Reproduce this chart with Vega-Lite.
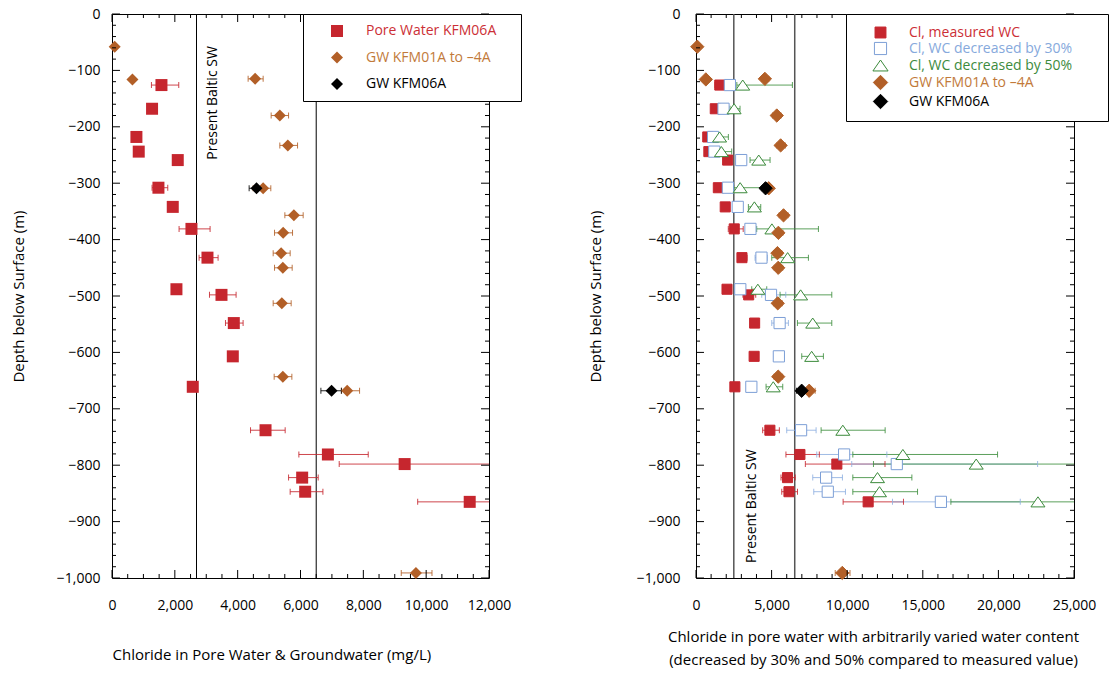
{
  "$schema": "https://vega.github.io/schema/vega-lite/v6.json",
  "background": "white",
  "autosize": {"type": "pad"},
  "padding": {"left": 10, "top": 6, "right": 3, "bottom": 5},
  "config": {
    "font": "Open Sans",
    "view": {"stroke": "black", "strokeWidth": 1},
    "axis": {"domain": false, "ticks": false, "grid": false, "labelColor": "black", "labelFont": "Open Sans", "labelFontSize": 14, "titleFont": "Open Sans", "titleFontSize": 15, "titleFontWeight": "normal", "titleColor": "black", "labelFlush": false, "labelOverlap": false, "labelBound": false},
    "legend": {"labelFont": "Open Sans", "labelFontSize": 14, "labelLimit": 600}
  },
  "datasets": {
    "left": [
      {"series": "Pore Water KFM06A", "depth": -126, "cl": 1574, "lo": 1255, "hi": 2125},
      {"series": "Pore Water KFM06A", "depth": -168, "cl": 1275},
      {"series": "Pore Water KFM06A", "depth": -218, "cl": 777},
      {"series": "Pore Water KFM06A", "depth": -244, "cl": 851},
      {"series": "Pore Water KFM06A", "depth": -259, "cl": 2093},
      {"series": "Pore Water KFM06A", "depth": -308, "cl": 1478, "lo": 1275, "hi": 1775},
      {"series": "Pore Water KFM06A", "depth": -342, "cl": 1934},
      {"series": "Pore Water KFM06A", "depth": -381, "cl": 2529, "lo": 2135, "hi": 3122},
      {"series": "Pore Water KFM06A", "depth": -432, "cl": 3039, "lo": 2772, "hi": 3377},
      {"series": "Pore Water KFM06A", "depth": -488, "cl": 2051},
      {"series": "Pore Water KFM06A", "depth": -498, "cl": 3485, "lo": 3103, "hi": 3950},
      {"series": "Pore Water KFM06A", "depth": -548, "cl": 3877, "lo": 3612, "hi": 4173},
      {"series": "Pore Water KFM06A", "depth": -607, "cl": 3845},
      {"series": "Pore Water KFM06A", "depth": -661, "cl": 2571},
      {"series": "Pore Water KFM06A", "depth": -738, "cl": 4887, "lo": 4409, "hi": 5512},
      {"series": "Pore Water KFM06A", "depth": -781, "cl": 6872, "lo": 5948, "hi": 8156},
      {"series": "Pore Water KFM06A", "depth": -798, "cl": 9315, "lo": 7232, "hi": 12500},
      {"series": "Pore Water KFM06A", "depth": -822, "cl": 6053, "lo": 5620, "hi": 6563},
      {"series": "Pore Water KFM06A", "depth": -847, "cl": 6149, "lo": 5671, "hi": 6713},
      {"series": "Pore Water KFM06A", "depth": -865, "cl": 11386, "lo": 9730, "hi": 13722},
      {"series": "GW KFM01A to –4A", "depth": -58, "cl": 86},
      {"series": "GW KFM01A to –4A", "depth": -116, "cl": 650},
      {"series": "GW KFM01A to –4A", "depth": -115, "cl": 4556, "lo": 4333, "hi": 4811},
      {"series": "GW KFM01A to –4A", "depth": -180, "cl": 5342, "lo": 5066, "hi": 5620},
      {"series": "GW KFM01A to –4A", "depth": -233, "cl": 5597, "lo": 5342, "hi": 5906},
      {"series": "GW KFM01A to –4A", "depth": -309, "cl": 4811, "lo": 4491, "hi": 5055},
      {"series": "GW KFM01A to –4A", "depth": -357, "cl": 5789, "lo": 5502, "hi": 6085},
      {"series": "GW KFM01A to –4A", "depth": -388, "cl": 5448, "lo": 5173, "hi": 5746},
      {"series": "GW KFM01A to –4A", "depth": -424, "cl": 5384, "lo": 5130, "hi": 5671},
      {"series": "GW KFM01A to –4A", "depth": -450, "cl": 5438, "lo": 5173, "hi": 5735},
      {"series": "GW KFM01A to –4A", "depth": -513, "cl": 5406, "lo": 5130, "hi": 5703},
      {"series": "GW KFM01A to –4A", "depth": -643, "cl": 5438, "lo": 5162, "hi": 5725},
      {"series": "GW KFM01A to –4A", "depth": -668, "cl": 7487, "lo": 7307, "hi": 7880},
      {"series": "GW KFM01A to –4A", "depth": -991, "cl": 9675, "lo": 9207, "hi": 10185},
      {"series": "GW KFM06A", "depth": -309, "cl": 4600, "lo": 4365, "hi": 4811},
      {"series": "GW KFM06A", "depth": -668, "cl": 6989, "lo": 6649, "hi": 7300}
    ],
    "right": [
      {"series": "Cl, measured WC", "depth": -126, "cl": 1574, "lo": 1255, "hi": 2125},
      {"series": "Cl, measured WC", "depth": -168, "cl": 1275},
      {"series": "Cl, measured WC", "depth": -218, "cl": 777},
      {"series": "Cl, measured WC", "depth": -244, "cl": 851},
      {"series": "Cl, measured WC", "depth": -259, "cl": 2093},
      {"series": "Cl, measured WC", "depth": -308, "cl": 1478, "lo": 1275, "hi": 1775},
      {"series": "Cl, measured WC", "depth": -342, "cl": 1934},
      {"series": "Cl, measured WC", "depth": -381, "cl": 2529, "lo": 2135, "hi": 3122},
      {"series": "Cl, measured WC", "depth": -432, "cl": 3039, "lo": 2772, "hi": 3377},
      {"series": "Cl, measured WC", "depth": -488, "cl": 2051},
      {"series": "Cl, measured WC", "depth": -498, "cl": 3485, "lo": 3103, "hi": 3950},
      {"series": "Cl, measured WC", "depth": -548, "cl": 3877, "lo": 3612, "hi": 4173},
      {"series": "Cl, measured WC", "depth": -607, "cl": 3845},
      {"series": "Cl, measured WC", "depth": -661, "cl": 2571},
      {"series": "Cl, measured WC", "depth": -738, "cl": 4887, "lo": 4409, "hi": 5512},
      {"series": "Cl, measured WC", "depth": -781, "cl": 6872, "lo": 5948, "hi": 8156},
      {"series": "Cl, measured WC", "depth": -798, "cl": 9315, "lo": 7232, "hi": 12500},
      {"series": "Cl, measured WC", "depth": -822, "cl": 6053, "lo": 5620, "hi": 6563},
      {"series": "Cl, measured WC", "depth": -847, "cl": 6149, "lo": 5671, "hi": 6713},
      {"series": "Cl, measured WC", "depth": -865, "cl": 11386, "lo": 9730, "hi": 13722},
      {"series": "Cl, WC decreased by 30%", "depth": -126, "cl": 2240},
      {"series": "Cl, WC decreased by 30%", "depth": -168, "cl": 1820},
      {"series": "Cl, WC decreased by 30%", "depth": -218, "cl": 1130},
      {"series": "Cl, WC decreased by 30%", "depth": -244, "cl": 1210},
      {"series": "Cl, WC decreased by 30%", "depth": -259, "cl": 2990},
      {"series": "Cl, WC decreased by 30%", "depth": -308, "cl": 2110},
      {"series": "Cl, WC decreased by 30%", "depth": -342, "cl": 2760},
      {"series": "Cl, WC decreased by 30%", "depth": -381, "cl": 3600},
      {"series": "Cl, WC decreased by 30%", "depth": -432, "cl": 4330, "lo": 3905, "hi": 4721},
      {"series": "Cl, WC decreased by 30%", "depth": -488, "cl": 2930},
      {"series": "Cl, WC decreased by 30%", "depth": -498, "cl": 4960, "lo": 4347, "hi": 5936},
      {"series": "Cl, WC decreased by 30%", "depth": -548, "cl": 5530, "lo": 5010, "hi": 6111},
      {"series": "Cl, WC decreased by 30%", "depth": -607, "cl": 5480, "lo": 5150, "hi": 5847},
      {"series": "Cl, WC decreased by 30%", "depth": -661, "cl": 3660},
      {"series": "Cl, WC decreased by 30%", "depth": -738, "cl": 6950, "lo": 6000, "hi": 7943},
      {"series": "Cl, WC decreased by 30%", "depth": -781, "cl": 9796, "lo": 7987, "hi": 12622},
      {"series": "Cl, WC decreased by 30%", "depth": -798, "cl": 13280, "lo": 10300, "hi": 22593},
      {"series": "Cl, WC decreased by 30%", "depth": -822, "cl": 8605, "lo": 7722, "hi": 9685},
      {"series": "Cl, WC decreased by 30%", "depth": -847, "cl": 8715, "lo": 7788, "hi": 9885},
      {"series": "Cl, WC decreased by 30%", "depth": -865, "cl": 16197, "lo": 12995, "hi": 21446},
      {"series": "Cl, WC decreased by 50%", "depth": -126, "cl": 3090, "lo": 2700, "hi": 6375},
      {"series": "Cl, WC decreased by 50%", "depth": -168, "cl": 2520, "lo": 2250, "hi": 2912},
      {"series": "Cl, WC decreased by 50%", "depth": -218, "cl": 1560, "lo": 1200, "hi": 2140},
      {"series": "Cl, WC decreased by 50%", "depth": -244, "cl": 1680, "lo": 1400, "hi": 2361},
      {"series": "Cl, WC decreased by 50%", "depth": -259, "cl": 4150, "lo": 3575, "hi": 4898},
      {"series": "Cl, WC decreased by 50%", "depth": -308, "cl": 2920, "lo": 2500, "hi": 4400},
      {"series": "Cl, WC decreased by 50%", "depth": -342, "cl": 3862, "lo": 3464, "hi": 4282},
      {"series": "Cl, WC decreased by 50%", "depth": -381, "cl": 5020, "lo": 4015, "hi": 8097},
      {"series": "Cl, WC decreased by 50%", "depth": -432, "cl": 6060, "lo": 5010, "hi": 7435},
      {"series": "Cl, WC decreased by 50%", "depth": -488, "cl": 4090, "lo": 3685, "hi": 4678},
      {"series": "Cl, WC decreased by 50%", "depth": -498, "cl": 6920, "lo": 5560, "hi": 8980},
      {"series": "Cl, WC decreased by 50%", "depth": -548, "cl": 7720, "lo": 6708, "hi": 8980},
      {"series": "Cl, WC decreased by 50%", "depth": -607, "cl": 7650, "lo": 6994, "hi": 8426},
      {"series": "Cl, WC decreased by 50%", "depth": -661, "cl": 5110, "lo": 4634, "hi": 5737},
      {"series": "Cl, WC decreased by 50%", "depth": -738, "cl": 9710, "lo": 8274, "hi": 12510},
      {"series": "Cl, WC decreased by 50%", "depth": -781, "cl": 13682, "lo": 10372, "hi": 19944},
      {"series": "Cl, WC decreased by 50%", "depth": -798, "cl": 18534, "lo": 11737, "hi": 26500},
      {"series": "Cl, WC decreased by 50%", "depth": -822, "cl": 12004, "lo": 10372, "hi": 14277},
      {"series": "Cl, WC decreased by 50%", "depth": -847, "cl": 12136, "lo": 10372, "hi": 14652},
      {"series": "Cl, WC decreased by 50%", "depth": -865, "cl": 22615, "lo": 16858, "hi": 26500},
      {"series": "GW KFM01A to –4A", "depth": -58, "cl": 86},
      {"series": "GW KFM01A to –4A", "depth": -116, "cl": 650},
      {"series": "GW KFM01A to –4A", "depth": -115, "cl": 4556, "lo": 4333, "hi": 4811},
      {"series": "GW KFM01A to –4A", "depth": -180, "cl": 5342, "lo": 5066, "hi": 5620},
      {"series": "GW KFM01A to –4A", "depth": -233, "cl": 5597, "lo": 5342, "hi": 5906},
      {"series": "GW KFM01A to –4A", "depth": -309, "cl": 4811, "lo": 4491, "hi": 5055},
      {"series": "GW KFM01A to –4A", "depth": -357, "cl": 5789, "lo": 5502, "hi": 6085},
      {"series": "GW KFM01A to –4A", "depth": -388, "cl": 5448, "lo": 5173, "hi": 5746},
      {"series": "GW KFM01A to –4A", "depth": -424, "cl": 5384, "lo": 5130, "hi": 5671},
      {"series": "GW KFM01A to –4A", "depth": -450, "cl": 5438, "lo": 5173, "hi": 5735},
      {"series": "GW KFM01A to –4A", "depth": -513, "cl": 5406, "lo": 5130, "hi": 5703},
      {"series": "GW KFM01A to –4A", "depth": -643, "cl": 5438, "lo": 5162, "hi": 5725},
      {"series": "GW KFM01A to –4A", "depth": -668, "cl": 7487, "lo": 7307, "hi": 7880},
      {"series": "GW KFM01A to –4A", "depth": -991, "cl": 9675, "lo": 9207, "hi": 10185},
      {"series": "GW KFM06A", "depth": -309, "cl": 4600, "lo": 4365, "hi": 4811},
      {"series": "GW KFM06A", "depth": -668, "cl": 6989, "lo": 6649, "hi": 7300}
    ]
  },
  "bounds": "flush",
  "spacing": 207,
  "resolve": {"scale": {"color": "independent", "fill": "independent", "stroke": "independent", "shape": "independent"}},
  "hconcat": [
    {
      "width": 377,
      "height": 564,
      "resolve": {"axis": {"x": "independent", "y": "independent"}},
      "layer": [
        {
          "data": {"values": [{"cl": 2690}, {"cl": 6500}]},
          "mark": {"type": "rule", "color": "black", "strokeWidth": 1},
          "encoding": {"x": {"field": "cl", "type": "quantitative", "scale": {"domain": [0, 12000], "nice": false, "zero": false}, "axis": null}}
        },
        {
          "data": {"values": [{"cl": 2690, "depth": -57, "label": "Present Baltic SW"}]},
          "mark": {"type": "text", "angle": 270, "align": "right", "baseline": "middle", "dy": 16, "fontSize": 14, "font": "Open Sans", "color": "black"},
          "encoding": {
            "x": {"field": "cl", "type": "quantitative", "scale": {"domain": [0, 12000], "nice": false, "zero": false}, "axis": null},
            "y": {"field": "depth", "type": "quantitative", "scale": {"domain": [-1000, 0], "nice": false, "zero": false}, "axis": null},
            "text": {"field": "label"}
          }
        },
        {
          "data": {"name": "left"},
          "transform": [{"filter": "isValid(datum.lo)"}],
          "mark": {"type": "rule", "strokeWidth": 1, "clip": true, "opacity": 0.85},
          "encoding": {
            "x": {"field": "lo", "type": "quantitative", "scale": {"domain": [0, 12000], "nice": false, "zero": false}, "axis": null},
            "x2": {"field": "hi"},
            "y": {"field": "depth", "type": "quantitative", "scale": {"domain": [-1000, 0], "nice": false, "zero": false}, "axis": null},
            "stroke": {"field": "series", "type": "nominal", "scale": {"domain": ["GW KFM06A", "GW KFM01A to –4A", "Pore Water KFM06A"], "range": ["#000000", "#b25f27", "#c6262e"]}, "legend": null}
          }
        },
        {
          "data": {"name": "left"},
          "transform": [{"filter": "isValid(datum.lo)"}],
          "mark": {"type": "tick", "orient": "vertical", "size": 6, "thickness": 1, "clip": true, "opacity": 0.85},
          "encoding": {
            "x": {"field": "lo", "type": "quantitative", "scale": {"domain": [0, 12000], "nice": false, "zero": false}, "axis": null},
            "y": {"field": "depth", "type": "quantitative", "scale": {"domain": [-1000, 0], "nice": false, "zero": false}, "axis": null},
            "fill": {"field": "series", "type": "nominal", "scale": {"domain": ["GW KFM06A", "GW KFM01A to –4A", "Pore Water KFM06A"], "range": ["#000000", "#b25f27", "#c6262e"]}, "legend": null}
          }
        },
        {
          "data": {"name": "left"},
          "transform": [{"filter": "isValid(datum.hi)"}],
          "mark": {"type": "tick", "orient": "vertical", "size": 6, "thickness": 1, "clip": true, "opacity": 0.85},
          "encoding": {
            "x": {"field": "hi", "type": "quantitative", "scale": {"domain": [0, 12000], "nice": false, "zero": false}, "axis": null},
            "y": {"field": "depth", "type": "quantitative", "scale": {"domain": [-1000, 0], "nice": false, "zero": false}, "axis": null},
            "fill": {"field": "series", "type": "nominal", "scale": {"domain": ["GW KFM06A", "GW KFM01A to –4A", "Pore Water KFM06A"], "range": ["#000000", "#b25f27", "#c6262e"]}, "legend": null}
          }
        },
        {
          "data": {"name": "left"},
          "mark": {"type": "point", "filled": true, "opacity": 1, "size": 144},
          "encoding": {
            "x": {"field": "cl", "type": "quantitative", "scale": {"domain": [0, 12000], "nice": false, "zero": false},
              "axis": {"orient": "bottom", "values": [0, 2000, 4000, 6000, 8000, 10000, 12000], "format": ",d", "ticks": false,
                "labelPadding": 20, "title": "Chloride in Pore Water & Groundwater (mg/L)", "titleX": 0, "titleAlign": "left", "titleY": 81, "titleBaseline": "alphabetic"}},
            "y": {"field": "depth", "type": "quantitative", "scale": {"domain": [-1000, 0], "nice": false, "zero": false},
              "axis": {"orient": "left", "values": [-1000,-900,-800,-700,-600,-500,-400,-300,-200,-100,0], "format": ",d", "ticks": false,
                "labelPadding": 12, "minExtent": 60, "maxExtent": 60, "titlePadding": 26, "title": "Depth below Surface (m)"}},
            "color": {"field": "series", "type": "nominal", "scale": {"domain": ["Pore Water KFM06A", "GW KFM01A to –4A", "GW KFM06A"], "range": ["#c6262e", "#b25f27", "#000000"]},
              "legend": {"title": ".", "titleOrient": "right", "titlePadding": 14, "titleFontSize": 2, "titleOpacity": 0, "titleColor": "#ffffff", "orient": "none", "legendX": 191, "legendY": 0, "strokeColor": "black", "fillColor": "white", "padding": 10, "symbolSize": 144, "symbolOffset": 17, "labelOffset": 22, "rowPadding": 12.5, "labelFontSize": 14, "labelFont": "Open Sans",
                "labelColor": {"expr": "datum.value === 'Pore Water KFM06A' ? '#cc2f36' : datum.value === 'GW KFM06A' ? '#000000' : '#c27a3a'"}}},
            "shape": {"field": "series", "type": "nominal", "scale": {"domain": ["Pore Water KFM06A", "GW KFM01A to –4A", "GW KFM06A"], "range": ["square", "diamond", "diamond"]},
              "legend": {"title": ".", "titleOrient": "right", "titlePadding": 14, "titleFontSize": 2, "titleOpacity": 0, "titleColor": "#ffffff", "orient": "none", "legendX": 191, "legendY": 0, "strokeColor": "black", "fillColor": "white", "padding": 10, "symbolSize": 144, "symbolOffset": 17, "labelOffset": 22, "rowPadding": 12.5, "labelFontSize": 14, "labelFont": "Open Sans",
                "labelColor": {"expr": "datum.value === 'Pore Water KFM06A' ? '#cc2f36' : datum.value === 'GW KFM06A' ? '#000000' : '#c27a3a'"}}}
          }
        },
        {
          "data": {"values": [{"v": 0}, {"v": 2000}, {"v": 4000}, {"v": 6000}, {"v": 8000}, {"v": 10000}, {"v": 12000}]},
          "mark": {"type": "rule", "stroke": "#000000", "strokeWidth": 1},
          "encoding": {"x": {"field": "v", "type": "quantitative", "scale": {"domain": [0, 12000], "nice": false, "zero": false}, "axis": null}, "y": {"datum": -1000, "type": "quantitative", "scale": {"domain": [-1000, 0], "nice": false, "zero": false}, "axis": null}, "y2": {"datum": -985.8}}
        },
        {
          "data": {"values": [{"v": 0}, {"v": 2000}, {"v": 4000}, {"v": 6000}, {"v": 8000}, {"v": 10000}, {"v": 12000}]},
          "mark": {"type": "rule", "stroke": "#000000", "strokeWidth": 1},
          "encoding": {"x": {"field": "v", "type": "quantitative", "scale": {"domain": [0, 12000], "nice": false, "zero": false}, "axis": null}, "y": {"datum": 0, "type": "quantitative", "scale": {"domain": [-1000, 0], "nice": false, "zero": false}, "axis": null}, "y2": {"datum": -14.2}}
        },
        {
          "data": {"values": [{"v": 500}, {"v": 1000}, {"v": 1500}, {"v": 2500}, {"v": 3000}, {"v": 3500}, {"v": 4500}, {"v": 5000}, {"v": 5500}, {"v": 6500}, {"v": 7000}, {"v": 7500}, {"v": 8500}, {"v": 9000}, {"v": 9500}, {"v": 10500}, {"v": 11000}, {"v": 11500}]},
          "mark": {"type": "rule", "stroke": "#000000", "strokeWidth": 1},
          "encoding": {"x": {"field": "v", "type": "quantitative", "scale": {"domain": [0, 12000], "nice": false, "zero": false}, "axis": null}, "y": {"datum": -1000, "type": "quantitative", "scale": {"domain": [-1000, 0], "nice": false, "zero": false}, "axis": null}, "y2": {"datum": -992.9}}
        },
        {
          "data": {"values": [{"v": 500}, {"v": 1000}, {"v": 1500}, {"v": 2500}, {"v": 3000}, {"v": 3500}, {"v": 4500}, {"v": 5000}, {"v": 5500}, {"v": 6500}, {"v": 7000}, {"v": 7500}, {"v": 8500}, {"v": 9000}, {"v": 9500}, {"v": 10500}, {"v": 11000}, {"v": 11500}]},
          "mark": {"type": "rule", "stroke": "#000000", "strokeWidth": 1},
          "encoding": {"x": {"field": "v", "type": "quantitative", "scale": {"domain": [0, 12000], "nice": false, "zero": false}, "axis": null}, "y": {"datum": 0, "type": "quantitative", "scale": {"domain": [-1000, 0], "nice": false, "zero": false}, "axis": null}, "y2": {"datum": -7.1}}
        },
        {
          "data": {"values": [{"v": -1000}, {"v": -900}, {"v": -800}, {"v": -700}, {"v": -600}, {"v": -500}, {"v": -400}, {"v": -300}, {"v": -200}, {"v": -100}, {"v": 0}]},
          "mark": {"type": "rule", "stroke": "#000000", "strokeWidth": 1},
          "encoding": {"y": {"field": "v", "type": "quantitative", "scale": {"domain": [-1000, 0], "nice": false, "zero": false}, "axis": null}, "x": {"datum": 0, "type": "quantitative", "scale": {"domain": [0, 12000], "nice": false, "zero": false}, "axis": null}, "x2": {"datum": 254.6}}
        },
        {
          "data": {"values": [{"v": -1000}, {"v": -900}, {"v": -800}, {"v": -700}, {"v": -600}, {"v": -500}, {"v": -400}, {"v": -300}, {"v": -200}, {"v": -100}, {"v": 0}]},
          "mark": {"type": "rule", "stroke": "#000000", "strokeWidth": 1},
          "encoding": {"y": {"field": "v", "type": "quantitative", "scale": {"domain": [-1000, 0], "nice": false, "zero": false}, "axis": null}, "x": {"datum": 12000, "type": "quantitative", "scale": {"domain": [0, 12000], "nice": false, "zero": false}, "axis": null}, "x2": {"datum": 11745.4}}
        },
        {
          "data": {"values": [{"v": -980}, {"v": -960}, {"v": -940}, {"v": -920}, {"v": -880}, {"v": -860}, {"v": -840}, {"v": -820}, {"v": -780}, {"v": -760}, {"v": -740}, {"v": -720}, {"v": -680}, {"v": -660}, {"v": -640}, {"v": -620}, {"v": -580}, {"v": -560}, {"v": -540}, {"v": -520}, {"v": -480}, {"v": -460}, {"v": -440}, {"v": -420}, {"v": -380}, {"v": -360}, {"v": -340}, {"v": -320}, {"v": -280}, {"v": -260}, {"v": -240}, {"v": -220}, {"v": -180}, {"v": -160}, {"v": -140}, {"v": -120}, {"v": -80}, {"v": -60}, {"v": -40}, {"v": -20}]},
          "mark": {"type": "rule", "stroke": "#000000", "strokeWidth": 1},
          "encoding": {"y": {"field": "v", "type": "quantitative", "scale": {"domain": [-1000, 0], "nice": false, "zero": false}, "axis": null}, "x": {"datum": 0, "type": "quantitative", "scale": {"domain": [0, 12000], "nice": false, "zero": false}, "axis": null}, "x2": {"datum": 127.3}}
        },
        {
          "data": {"values": [{"v": -980}, {"v": -960}, {"v": -940}, {"v": -920}, {"v": -880}, {"v": -860}, {"v": -840}, {"v": -820}, {"v": -780}, {"v": -760}, {"v": -740}, {"v": -720}, {"v": -680}, {"v": -660}, {"v": -640}, {"v": -620}, {"v": -580}, {"v": -560}, {"v": -540}, {"v": -520}, {"v": -480}, {"v": -460}, {"v": -440}, {"v": -420}, {"v": -380}, {"v": -360}, {"v": -340}, {"v": -320}, {"v": -280}, {"v": -260}, {"v": -240}, {"v": -220}, {"v": -180}, {"v": -160}, {"v": -140}, {"v": -120}, {"v": -80}, {"v": -60}, {"v": -40}, {"v": -20}]},
          "mark": {"type": "rule", "stroke": "#000000", "strokeWidth": 1},
          "encoding": {"y": {"field": "v", "type": "quantitative", "scale": {"domain": [-1000, 0], "nice": false, "zero": false}, "axis": null}, "x": {"datum": 12000, "type": "quantitative", "scale": {"domain": [0, 12000], "nice": false, "zero": false}, "axis": null}, "x2": {"datum": 11872.7}}
        }
      ]
    },
    {
      "width": 378,
      "height": 564,
      "resolve": {"axis": {"x": "independent", "y": "independent"}},
      "layer": [
        {
          "data": {"values": [{"cl": 2500}, {"cl": 6530}]},
          "mark": {"type": "rule", "color": "#555555", "strokeWidth": 1.5},
          "encoding": {"x": {"field": "cl", "type": "quantitative", "scale": {"domain": [0, 25000], "nice": false, "zero": false}, "axis": null}}
        },
        {
          "data": {"values": [{"cl": 2500, "depth": -772, "label": "Present Baltic SW"}]},
          "mark": {"type": "text", "angle": 270, "align": "right", "baseline": "middle", "dy": 18, "fontSize": 14, "font": "Open Sans", "color": "black"},
          "encoding": {
            "x": {"field": "cl", "type": "quantitative", "scale": {"domain": [0, 25000], "nice": false, "zero": false}, "axis": null},
            "y": {"field": "depth", "type": "quantitative", "scale": {"domain": [-1000, 0], "nice": false, "zero": false}, "axis": null},
            "text": {"field": "label"}
          }
        },
        {
          "data": {"name": "right"},
          "transform": [{"filter": "isValid(datum.lo)"}],
          "mark": {"type": "rule", "strokeWidth": 1, "clip": true, "opacity": 0.85},
          "encoding": {
            "x": {"field": "lo", "type": "quantitative", "scale": {"domain": [0, 25000], "nice": false, "zero": false}, "axis": null},
            "x2": {"field": "hi"},
            "y": {"field": "depth", "type": "quantitative", "scale": {"domain": [-1000, 0], "nice": false, "zero": false}, "axis": null},
            "color": {"field": "series", "type": "nominal", "scale": {"domain": ["GW KFM06A", "GW KFM01A to –4A", "Cl, WC decreased by 50%", "Cl, WC decreased by 30%", "Cl, measured WC"], "range": ["#000000", "#b25f27", "#3f8f3f", "#8fb0e0", "#c6262e"]}, "legend": null}
          }
        },
        {
          "data": {"name": "right"},
          "transform": [{"filter": "isValid(datum.lo)"}],
          "mark": {"type": "tick", "orient": "vertical", "size": 6, "thickness": 1, "clip": true, "opacity": 0.85},
          "encoding": {
            "x": {"field": "lo", "type": "quantitative", "scale": {"domain": [0, 25000], "nice": false, "zero": false}, "axis": null},
            "y": {"field": "depth", "type": "quantitative", "scale": {"domain": [-1000, 0], "nice": false, "zero": false}, "axis": null},
            "color": {"field": "series", "type": "nominal", "scale": {"domain": ["GW KFM06A", "GW KFM01A to –4A", "Cl, WC decreased by 50%", "Cl, WC decreased by 30%", "Cl, measured WC"], "range": ["#000000", "#b25f27", "#3f8f3f", "#8fb0e0", "#c6262e"]}, "legend": null}
          }
        },
        {
          "data": {"name": "right"},
          "transform": [{"filter": "isValid(datum.hi)"}],
          "mark": {"type": "tick", "orient": "vertical", "size": 6, "thickness": 1, "clip": true, "opacity": 0.85},
          "encoding": {
            "x": {"field": "hi", "type": "quantitative", "scale": {"domain": [0, 25000], "nice": false, "zero": false}, "axis": null},
            "y": {"field": "depth", "type": "quantitative", "scale": {"domain": [-1000, 0], "nice": false, "zero": false}, "axis": null},
            "color": {"field": "series", "type": "nominal", "scale": {"domain": ["GW KFM06A", "GW KFM01A to –4A", "Cl, WC decreased by 50%", "Cl, WC decreased by 30%", "Cl, measured WC"], "range": ["#000000", "#b25f27", "#3f8f3f", "#8fb0e0", "#c6262e"]}, "legend": null}
          }
        },
        {
          "data": {"name": "right"},
          "mark": {"type": "point", "opacity": 1, "size": 196, "strokeWidth": 1},
          "encoding": {
            "x": {"field": "cl", "type": "quantitative", "scale": {"domain": [0, 25000], "nice": false, "zero": false},
              "axis": {"orient": "bottom", "values": [0, 5000, 10000, 15000, 20000, 25000], "format": ",d", "ticks": false,
                "labelPadding": 20, "title": ["Chloride in pore water with arbitrarily varied water content", "(decreased by 30% and 50% compared to measured value)"], "titleX": 177, "titleAlign": "center", "titleY": 63, "titleBaseline": "alphabetic", "titleLineHeight": 23}},
            "y": {"field": "depth", "type": "quantitative", "scale": {"domain": [-1000, 0], "nice": false, "zero": false},
              "axis": {"orient": "left", "values": [-1000,-900,-800,-700,-600,-500,-400,-300,-200,-100,0], "format": ",d", "ticks": false,
                "labelPadding": 16, "minExtent": 64, "maxExtent": 64, "titlePadding": 29, "title": "Depth below Surface (m)"}},
            "shape": {"field": "series", "type": "nominal", "scale": {"domain": ["Cl, measured WC", "Cl, WC decreased by 30%", "Cl, WC decreased by 50%", "GW KFM01A to –4A", "GW KFM06A"], "range": ["M-0.72,-0.72H0.72V0.72H-0.72Z", "M-0.8,-0.8H0.8V0.8H-0.8Z", "M0,-0.72L1,0.72L-1,0.72Z", "M-0.95,0L0,-0.95L0.95,0L0,0.95Z", "M-0.95,0L0,-0.95L0.95,0L0,0.95Z"]},
              "legend": {"title": ".", "titleOrient": "right", "titlePadding": 25, "titleFontSize": 2, "titleOpacity": 0, "titleColor": "#ffffff", "orient": "none", "legendX": 150, "legendY": 0, "strokeColor": "black", "fillColor": "white", "padding": 10, "symbolSize": 230, "symbolOffset": 16, "labelOffset": 20, "rowPadding": 0, "labelFontSize": 14, "labelFont": "Open Sans", "symbolStrokeWidth": 1,
                "labelColor": {"expr": "datum.value === 'Cl, measured WC' ? '#cc2f36' : datum.value === 'Cl, WC decreased by 30%' ? '#86a9dc' : datum.value === 'Cl, WC decreased by 50%' ? '#3d8b3d' : datum.value === 'GW KFM06A' ? '#000000' : '#c27a3a'"}}},
            "fill": {"field": "series", "type": "nominal", "scale": {"domain": ["Cl, measured WC", "Cl, WC decreased by 30%", "Cl, WC decreased by 50%", "GW KFM01A to –4A", "GW KFM06A"], "range": ["#c6262e", "#ffffff", "#ffffff", "#b25f27", "#000000"]},
              "legend": {"title": ".", "titleOrient": "right", "titlePadding": 25, "titleFontSize": 2, "titleOpacity": 0, "titleColor": "#ffffff", "orient": "none", "legendX": 150, "legendY": 0, "strokeColor": "black", "fillColor": "white", "padding": 10, "symbolSize": 230, "symbolOffset": 16, "labelOffset": 20, "rowPadding": 0, "labelFontSize": 14, "labelFont": "Open Sans", "symbolStrokeWidth": 1,
                "labelColor": {"expr": "datum.value === 'Cl, measured WC' ? '#cc2f36' : datum.value === 'Cl, WC decreased by 30%' ? '#86a9dc' : datum.value === 'Cl, WC decreased by 50%' ? '#3d8b3d' : datum.value === 'GW KFM06A' ? '#000000' : '#c27a3a'"}}},
            "stroke": {"field": "series", "type": "nominal", "scale": {"domain": ["Cl, measured WC", "Cl, WC decreased by 30%", "Cl, WC decreased by 50%", "GW KFM01A to –4A", "GW KFM06A"], "range": ["#c6262e", "#7d9fd6", "#3b8a3b", "#b25f27", "#000000"]},
              "legend": {"title": ".", "titleOrient": "right", "titlePadding": 25, "titleFontSize": 2, "titleOpacity": 0, "titleColor": "#ffffff", "orient": "none", "legendX": 150, "legendY": 0, "strokeColor": "black", "fillColor": "white", "padding": 10, "symbolSize": 230, "symbolOffset": 16, "labelOffset": 20, "rowPadding": 0, "labelFontSize": 14, "labelFont": "Open Sans", "symbolStrokeWidth": 1,
                "labelColor": {"expr": "datum.value === 'Cl, measured WC' ? '#cc2f36' : datum.value === 'Cl, WC decreased by 30%' ? '#86a9dc' : datum.value === 'Cl, WC decreased by 50%' ? '#3d8b3d' : datum.value === 'GW KFM06A' ? '#000000' : '#c27a3a'"}}}
          }
        },
        {
          "data": {"values": [{"v": 0}, {"v": 5000}, {"v": 10000}, {"v": 15000}, {"v": 20000}, {"v": 25000}]},
          "mark": {"type": "rule", "stroke": "#000000", "strokeWidth": 1},
          "encoding": {"x": {"field": "v", "type": "quantitative", "scale": {"domain": [0, 25000], "nice": false, "zero": false}, "axis": null}, "y": {"datum": -1000, "type": "quantitative", "scale": {"domain": [-1000, 0], "nice": false, "zero": false}, "axis": null}, "y2": {"datum": -985.8}}
        },
        {
          "data": {"values": [{"v": 0}, {"v": 5000}, {"v": 10000}, {"v": 15000}, {"v": 20000}, {"v": 25000}]},
          "mark": {"type": "rule", "stroke": "#000000", "strokeWidth": 1},
          "encoding": {"x": {"field": "v", "type": "quantitative", "scale": {"domain": [0, 25000], "nice": false, "zero": false}, "axis": null}, "y": {"datum": 0, "type": "quantitative", "scale": {"domain": [-1000, 0], "nice": false, "zero": false}, "axis": null}, "y2": {"datum": -14.2}}
        },
        {
          "data": {"values": [{"v": 1000}, {"v": 2000}, {"v": 3000}, {"v": 4000}, {"v": 6000}, {"v": 7000}, {"v": 8000}, {"v": 9000}, {"v": 11000}, {"v": 12000}, {"v": 13000}, {"v": 14000}, {"v": 16000}, {"v": 17000}, {"v": 18000}, {"v": 19000}, {"v": 21000}, {"v": 22000}, {"v": 23000}, {"v": 24000}]},
          "mark": {"type": "rule", "stroke": "#000000", "strokeWidth": 1},
          "encoding": {"x": {"field": "v", "type": "quantitative", "scale": {"domain": [0, 25000], "nice": false, "zero": false}, "axis": null}, "y": {"datum": -1000, "type": "quantitative", "scale": {"domain": [-1000, 0], "nice": false, "zero": false}, "axis": null}, "y2": {"datum": -992.9}}
        },
        {
          "data": {"values": [{"v": 1000}, {"v": 2000}, {"v": 3000}, {"v": 4000}, {"v": 6000}, {"v": 7000}, {"v": 8000}, {"v": 9000}, {"v": 11000}, {"v": 12000}, {"v": 13000}, {"v": 14000}, {"v": 16000}, {"v": 17000}, {"v": 18000}, {"v": 19000}, {"v": 21000}, {"v": 22000}, {"v": 23000}, {"v": 24000}]},
          "mark": {"type": "rule", "stroke": "#000000", "strokeWidth": 1},
          "encoding": {"x": {"field": "v", "type": "quantitative", "scale": {"domain": [0, 25000], "nice": false, "zero": false}, "axis": null}, "y": {"datum": 0, "type": "quantitative", "scale": {"domain": [-1000, 0], "nice": false, "zero": false}, "axis": null}, "y2": {"datum": -7.1}}
        },
        {
          "data": {"values": [{"v": -1000}, {"v": -900}, {"v": -800}, {"v": -700}, {"v": -600}, {"v": -500}, {"v": -400}, {"v": -300}, {"v": -200}, {"v": -100}, {"v": 0}]},
          "mark": {"type": "rule", "stroke": "#000000", "strokeWidth": 1},
          "encoding": {"y": {"field": "v", "type": "quantitative", "scale": {"domain": [-1000, 0], "nice": false, "zero": false}, "axis": null}, "x": {"datum": 0, "type": "quantitative", "scale": {"domain": [0, 25000], "nice": false, "zero": false}, "axis": null}, "x2": {"datum": 529.1}}
        },
        {
          "data": {"values": [{"v": -1000}, {"v": -900}, {"v": -800}, {"v": -700}, {"v": -600}, {"v": -500}, {"v": -400}, {"v": -300}, {"v": -200}, {"v": -100}, {"v": 0}]},
          "mark": {"type": "rule", "stroke": "#000000", "strokeWidth": 1},
          "encoding": {"y": {"field": "v", "type": "quantitative", "scale": {"domain": [-1000, 0], "nice": false, "zero": false}, "axis": null}, "x": {"datum": 25000, "type": "quantitative", "scale": {"domain": [0, 25000], "nice": false, "zero": false}, "axis": null}, "x2": {"datum": 24470.9}}
        },
        {
          "data": {"values": [{"v": -980}, {"v": -960}, {"v": -940}, {"v": -920}, {"v": -880}, {"v": -860}, {"v": -840}, {"v": -820}, {"v": -780}, {"v": -760}, {"v": -740}, {"v": -720}, {"v": -680}, {"v": -660}, {"v": -640}, {"v": -620}, {"v": -580}, {"v": -560}, {"v": -540}, {"v": -520}, {"v": -480}, {"v": -460}, {"v": -440}, {"v": -420}, {"v": -380}, {"v": -360}, {"v": -340}, {"v": -320}, {"v": -280}, {"v": -260}, {"v": -240}, {"v": -220}, {"v": -180}, {"v": -160}, {"v": -140}, {"v": -120}, {"v": -80}, {"v": -60}, {"v": -40}, {"v": -20}]},
          "mark": {"type": "rule", "stroke": "#000000", "strokeWidth": 1},
          "encoding": {"y": {"field": "v", "type": "quantitative", "scale": {"domain": [-1000, 0], "nice": false, "zero": false}, "axis": null}, "x": {"datum": 0, "type": "quantitative", "scale": {"domain": [0, 25000], "nice": false, "zero": false}, "axis": null}, "x2": {"datum": 264.6}}
        },
        {
          "data": {"values": [{"v": -980}, {"v": -960}, {"v": -940}, {"v": -920}, {"v": -880}, {"v": -860}, {"v": -840}, {"v": -820}, {"v": -780}, {"v": -760}, {"v": -740}, {"v": -720}, {"v": -680}, {"v": -660}, {"v": -640}, {"v": -620}, {"v": -580}, {"v": -560}, {"v": -540}, {"v": -520}, {"v": -480}, {"v": -460}, {"v": -440}, {"v": -420}, {"v": -380}, {"v": -360}, {"v": -340}, {"v": -320}, {"v": -280}, {"v": -260}, {"v": -240}, {"v": -220}, {"v": -180}, {"v": -160}, {"v": -140}, {"v": -120}, {"v": -80}, {"v": -60}, {"v": -40}, {"v": -20}]},
          "mark": {"type": "rule", "stroke": "#000000", "strokeWidth": 1},
          "encoding": {"y": {"field": "v", "type": "quantitative", "scale": {"domain": [-1000, 0], "nice": false, "zero": false}, "axis": null}, "x": {"datum": 25000, "type": "quantitative", "scale": {"domain": [0, 25000], "nice": false, "zero": false}, "axis": null}, "x2": {"datum": 24735.4}}
        }
      ]
    }
  ]
}
